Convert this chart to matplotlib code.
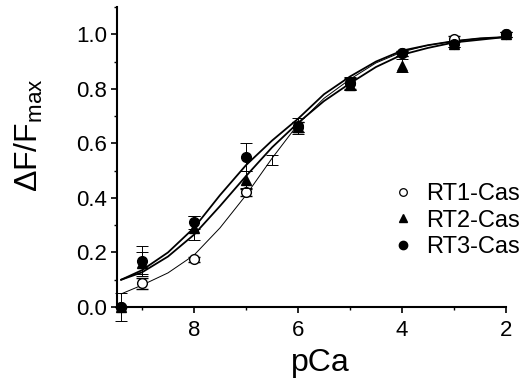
import numpy as np
import matplotlib
matplotlib.use('Agg')
import matplotlib.pyplot as plt
from matplotlib.lines import Line2D
from matplotlib.ticker import MultipleLocator

plt.rcParams['font.family'] = ['Liberation Sans', 'DejaVu Sans']
plt.rcParams['mathtext.fontset'] = 'custom'
plt.rcParams['mathtext.rm'] = 'Liberation Sans'
plt.rcParams['mathtext.it'] = 'Liberation Sans'

# measured points (pCa, normalised fluorescence, error)
pca = [9.4, 9, 8, 7, 6, 5, 4, 3, 2]
rt1 = [0.0, 0.087, 0.175, 0.42, 0.66, 0.82, 0.93, 0.982, 1.0]
rt1_err = [0.0, 0.02, 0.01, 0.012, 0.02, 0.02, 0.01, 0.01, 0.01]
rt2 = [0.0, 0.16, 0.29, 0.467, 0.66, 0.815, 0.885, 0.965, 1.0]
rt2_err = [0.0, 0.04, 0.045, 0.03, 0.02, 0.02, 0.025, 0.01, 0.01]
rt3 = [0.0, 0.17, 0.31, 0.55, 0.663, 0.82, 0.93, 0.965, 1.0]
rt3_err = [0.05, 0.055, 0.025, 0.05, 0.03, 0.025, 0.01, 0.01, 0.01]

# lone error bar near pCa 6.5 (RT1)
rt1_extra_pca = [6.5]
rt1_extra = [0.54]
rt1_extra_err = [0.018]

# fitted curves
curve_pca = [9.4, 9, 8.5, 8, 7.5, 7, 6.5, 6, 5.5, 5, 4.5, 4, 3.5, 3, 2.5, 2]
rt1_fit = [0.048, 0.08, 0.125, 0.19, 0.29, 0.41, 0.545, 0.67, 0.765, 0.835,
           0.895, 0.935, 0.96, 0.975, 0.985, 0.99]
rt2_fit = [0.10, 0.127, 0.185, 0.265, 0.37, 0.48, 0.585, 0.675, 0.755, 0.82,
           0.88, 0.925, 0.95, 0.97, 0.98, 0.99]
rt3_fit = [0.10, 0.135, 0.20, 0.29, 0.41, 0.52, 0.61, 0.69, 0.78, 0.845,
           0.90, 0.94, 0.96, 0.975, 0.985, 0.99]

labels = ['RT1-Cas', 'RT2-Cas', 'RT3-Cas']

fig = plt.figure(figsize=(5.31, 3.84), dpi=100)
ax = fig.add_axes([117/531, 1-307/384, (506-117)/531, (307-7)/384])

ax.plot(curve_pca, rt1_fit, color='black', lw=0.7, zorder=2)
ax.plot(curve_pca, rt2_fit, color='black', lw=1.3, zorder=2)
ax.plot(curve_pca, rt3_fit, color='black', lw=1.3, zorder=2)

ebkw = dict(ecolor='black', elinewidth=0.7, capsize=4.2, capthick=0.7,
            clip_on=False, markeredgecolor='black', ms=7, ls='none')
ax.errorbar(rt1_extra_pca, rt1_extra, yerr=rt1_extra_err, fmt='none',
            ecolor='black', elinewidth=0.7, capsize=4.2, capthick=0.7, zorder=3)
ax.errorbar(pca, rt1, yerr=rt1_err, fmt='o', mfc='white', mew=1.0, zorder=4, **ebkw)
ax.errorbar(pca, rt2, yerr=rt2_err, fmt='^', mfc='black', zorder=5, **ebkw)
ax.errorbar(pca, rt3, yerr=rt3_err, fmt='o', mfc='black', zorder=6, **ebkw)

ax.set_xlim(9.48, 2)
ax.set_ylim(0, 1.1)
ax.xaxis.set_major_locator(MultipleLocator(2))
ax.xaxis.set_minor_locator(MultipleLocator(1))
ax.yaxis.set_major_locator(MultipleLocator(0.2))
ax.yaxis.set_minor_locator(MultipleLocator(0.1))
ax.set_yticks([0, 0.2, 0.4, 0.6, 0.8, 1.0])
ax.set_yticklabels(['0.0', '0.2', '0.4', '0.6', '0.8', '1.0'])
ax.set_xticks([8, 6, 4, 2])

for side in ['top', 'right']:
    ax.spines[side].set_visible(False)
for side in ['left', 'bottom']:
    ax.spines[side].set_linewidth(1.5)
ax.tick_params(which='major', direction='out', length=4, width=1.2, labelsize=16, pad=3)
ax.tick_params(axis='x', which='major', pad=5)
ax.tick_params(which='minor', direction='out', length=2.5, width=1.0)

ax.set_xlabel('pCa', fontsize=23)
ax.xaxis.set_label_coords(0.522, -0.135)
ax.set_ylabel(r'$\Delta$F/F$_{\rm max}$', fontsize=23)
ax.yaxis.set_label_coords(-0.185, 0.573)

handles = [
    Line2D([], [], marker='o', ls='none', mfc='white', mec='black', ms=5.5, mew=0.9),
    Line2D([], [], marker='^', ls='none', mfc='black', mec='black', ms=6),
    Line2D([], [], marker='o', ls='none', mfc='black', mec='black', ms=6),
]
ax.legend(handles, labels, loc='upper left', bbox_to_anchor=(0.68, 0.445),
          frameon=False, fontsize=17, handlelength=1.0, handletextpad=0.5,
          labelspacing=0.2, borderaxespad=0)

fig.savefig('out.png', dpi=100)
